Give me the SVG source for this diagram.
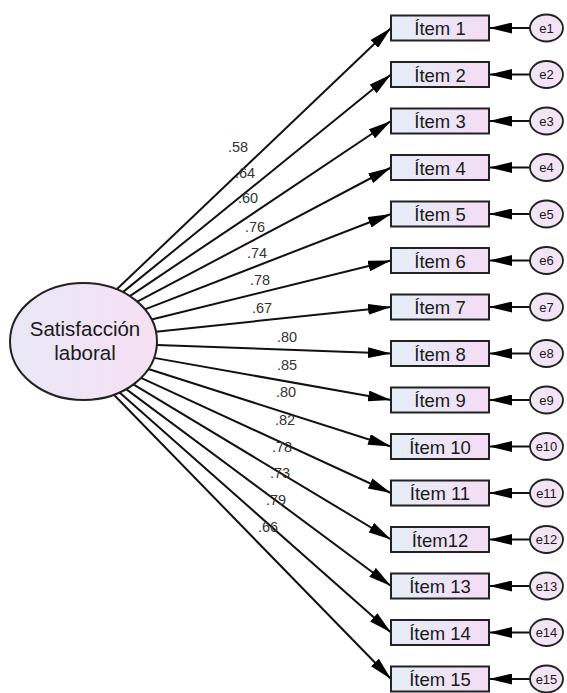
<svg xmlns="http://www.w3.org/2000/svg" width="567" height="693" viewBox="0 0 567 693">
<style>
.item rect{stroke:#222;stroke-width:2;fill:url(#gBox)}
.item text{font-family:"Liberation Sans",Arial,sans-serif;font-size:18.5px;fill:#1a1a1a;text-anchor:middle}
.err ellipse{stroke:#222;stroke-width:1.8;fill:url(#gErr)}
.err text{font-family:"Liberation Sans",Arial,sans-serif;font-size:13px;fill:#1a1a1a;text-anchor:middle}
#connectors line{stroke:#111;stroke-width:2;marker-end:url(#arr)}
.lbl{font-family:"Liberation Sans",Arial,sans-serif;font-size:14.5px;fill:#333;text-anchor:middle}
.lat{font-family:"Liberation Sans",Arial,sans-serif;font-size:20.5px;fill:#1a1a1a;text-anchor:middle}
</style>
<defs>
<linearGradient id="gBox" x1="0" y1="0" x2="1" y2="0"><stop offset="0" stop-color="#e6eef8"/><stop offset="1" stop-color="#f4dcf4"/></linearGradient>
<linearGradient id="gErr" x1="0" y1="0" x2="1" y2="0"><stop offset="0" stop-color="#efe6f6"/><stop offset="1" stop-color="#f6e2f4"/></linearGradient>
<linearGradient id="gLat" x1="0" y1="0" x2="1" y2="0"><stop offset="0" stop-color="#e9e8f6"/><stop offset="1" stop-color="#f6e0f4"/></linearGradient>
<marker id="arr" markerUnits="userSpaceOnUse" markerWidth="23" markerHeight="11" refX="23" refY="5.5" orient="auto"><path d="M0,0 L23,5.5 L0,11 z" fill="#000"/></marker>
</defs>
<rect width="567" height="693" fill="#fff"/>
<g id="connectors">
<line x1="116.75" y1="289.33" x2="391" y2="28"/>
<line x1="122.87" y1="292.10" x2="391" y2="74.5"/>
<line x1="129.80" y1="296.06" x2="391" y2="121"/>
<line x1="137.32" y1="301.66" x2="391" y2="167.5"/>
<line x1="144.92" y1="309.36" x2="391" y2="214"/>
<line x1="151.58" y1="319.45" x2="391" y2="260.5"/>
<line x1="155.95" y1="331.65" x2="391" y2="307"/>
<line x1="156.87" y1="344.96" x2="391" y2="353.5"/>
<line x1="154.06" y1="357.87" x2="391" y2="400"/>
<line x1="148.34" y1="369.05" x2="391" y2="446.5"/>
<line x1="141.04" y1="377.90" x2="391" y2="493"/>
<line x1="133.39" y1="384.46" x2="391" y2="539.5"/>
<line x1="126.13" y1="389.16" x2="391" y2="586"/>
<line x1="119.61" y1="392.45" x2="391" y2="632.5"/>
<line x1="113.92" y1="394.76" x2="391" y2="679"/>
<line x1="530" y1="28" x2="489" y2="28"/>
<line x1="530" y1="74.5" x2="489" y2="74.5"/>
<line x1="530" y1="121" x2="489" y2="121"/>
<line x1="530" y1="167.5" x2="489" y2="167.5"/>
<line x1="530" y1="214" x2="489" y2="214"/>
<line x1="530" y1="260.5" x2="489" y2="260.5"/>
<line x1="530" y1="307" x2="489" y2="307"/>
<line x1="530" y1="353.5" x2="489" y2="353.5"/>
<line x1="530" y1="400" x2="489" y2="400"/>
<line x1="530" y1="446.5" x2="489" y2="446.5"/>
<line x1="530" y1="493" x2="489" y2="493"/>
<line x1="530" y1="539.5" x2="489" y2="539.5"/>
<line x1="530" y1="586" x2="489" y2="586"/>
<line x1="530" y1="632.5" x2="489" y2="632.5"/>
<line x1="530" y1="679" x2="489" y2="679"/>
</g>
<g id="labels">
<text class="lbl" x="238" y="152">.58</text>
<text class="lbl" x="245" y="178">.64</text>
<text class="lbl" x="248" y="203">.60</text>
<text class="lbl" x="255" y="232">.76</text>
<text class="lbl" x="257" y="258">.74</text>
<text class="lbl" x="260" y="285">.78</text>
<text class="lbl" x="262" y="313">.67</text>
<text class="lbl" x="287" y="342">.80</text>
<text class="lbl" x="287" y="370">.85</text>
<text class="lbl" x="286" y="397">.80</text>
<text class="lbl" x="285" y="425">.82</text>
<text class="lbl" x="282" y="452">.78</text>
<text class="lbl" x="280" y="478">.73</text>
<text class="lbl" x="276" y="505">.79</text>
<text class="lbl" x="268" y="532">.66</text>
</g>
<g id="latent">
<ellipse cx="83.5" cy="341.5" rx="73.5" ry="58.5" fill="url(#gLat)" stroke="#222" stroke-width="2"/>
<text class="lat" x="85" y="336">Satisfacción</text>
<text class="lat" x="85" y="360">laboral</text>
</g>
<g id="item1" class="item"><rect x="391" y="15.5" width="98" height="25"/><text x="440" y="35">Ítem 1</text></g>
<g id="item2" class="item"><rect x="391" y="62" width="98" height="25"/><text x="440" y="81.5">Ítem 2</text></g>
<g id="item3" class="item"><rect x="391" y="108.5" width="98" height="25"/><text x="440" y="128">Ítem 3</text></g>
<g id="item4" class="item"><rect x="391" y="155" width="98" height="25"/><text x="440" y="174.5">Ítem 4</text></g>
<g id="item5" class="item"><rect x="391" y="201.5" width="98" height="25"/><text x="440" y="221">Ítem 5</text></g>
<g id="item6" class="item"><rect x="391" y="248" width="98" height="25"/><text x="440" y="267.5">Ítem 6</text></g>
<g id="item7" class="item"><rect x="391" y="294.5" width="98" height="25"/><text x="440" y="314">Ítem 7</text></g>
<g id="item8" class="item"><rect x="391" y="341" width="98" height="25"/><text x="440" y="360.5">Ítem 8</text></g>
<g id="item9" class="item"><rect x="391" y="387.5" width="98" height="25"/><text x="440" y="407">Ítem 9</text></g>
<g id="item10" class="item"><rect x="391" y="434" width="98" height="25"/><text x="440" y="453.5">Ítem 10</text></g>
<g id="item11" class="item"><rect x="391" y="480.5" width="98" height="25"/><text x="440" y="500">Ítem 11</text></g>
<g id="item12" class="item"><rect x="391" y="527" width="98" height="25"/><text x="440" y="546.5">Ítem12</text></g>
<g id="item13" class="item"><rect x="391" y="573.5" width="98" height="25"/><text x="440" y="593">Ítem 13</text></g>
<g id="item14" class="item"><rect x="391" y="620" width="98" height="25"/><text x="440" y="639.5">Ítem 14</text></g>
<g id="item15" class="item"><rect x="391" y="666.5" width="98" height="25"/><text x="440" y="686">Ítem 15</text></g>
<g id="e1" class="err"><ellipse cx="546.5" cy="28" rx="16.5" ry="13.5"/><text x="546.5" y="32.5">e1</text></g>
<g id="e2" class="err"><ellipse cx="546.5" cy="74.5" rx="16.5" ry="13.5"/><text x="546.5" y="79">e2</text></g>
<g id="e3" class="err"><ellipse cx="546.5" cy="121" rx="16.5" ry="13.5"/><text x="546.5" y="125.5">e3</text></g>
<g id="e4" class="err"><ellipse cx="546.5" cy="167.5" rx="16.5" ry="13.5"/><text x="546.5" y="172">e4</text></g>
<g id="e5" class="err"><ellipse cx="546.5" cy="214" rx="16.5" ry="13.5"/><text x="546.5" y="218.5">e5</text></g>
<g id="e6" class="err"><ellipse cx="546.5" cy="260.5" rx="16.5" ry="13.5"/><text x="546.5" y="265">e6</text></g>
<g id="e7" class="err"><ellipse cx="546.5" cy="307" rx="16.5" ry="13.5"/><text x="546.5" y="311.5">e7</text></g>
<g id="e8" class="err"><ellipse cx="546.5" cy="353.5" rx="16.5" ry="13.5"/><text x="546.5" y="358">e8</text></g>
<g id="e9" class="err"><ellipse cx="546.5" cy="400" rx="16.5" ry="13.5"/><text x="546.5" y="404.5">e9</text></g>
<g id="e10" class="err"><ellipse cx="546.5" cy="446.5" rx="16.5" ry="13.5"/><text x="546.5" y="451">e10</text></g>
<g id="e11" class="err"><ellipse cx="546.5" cy="493" rx="16.5" ry="13.5"/><text x="546.5" y="497.5">e11</text></g>
<g id="e12" class="err"><ellipse cx="546.5" cy="539.5" rx="16.5" ry="13.5"/><text x="546.5" y="544">e12</text></g>
<g id="e13" class="err"><ellipse cx="546.5" cy="586" rx="16.5" ry="13.5"/><text x="546.5" y="590.5">e13</text></g>
<g id="e14" class="err"><ellipse cx="546.5" cy="632.5" rx="16.5" ry="13.5"/><text x="546.5" y="637">e14</text></g>
<g id="e15" class="err"><ellipse cx="546.5" cy="679" rx="16.5" ry="13.5"/><text x="546.5" y="683.5">e15</text></g>
</svg>
